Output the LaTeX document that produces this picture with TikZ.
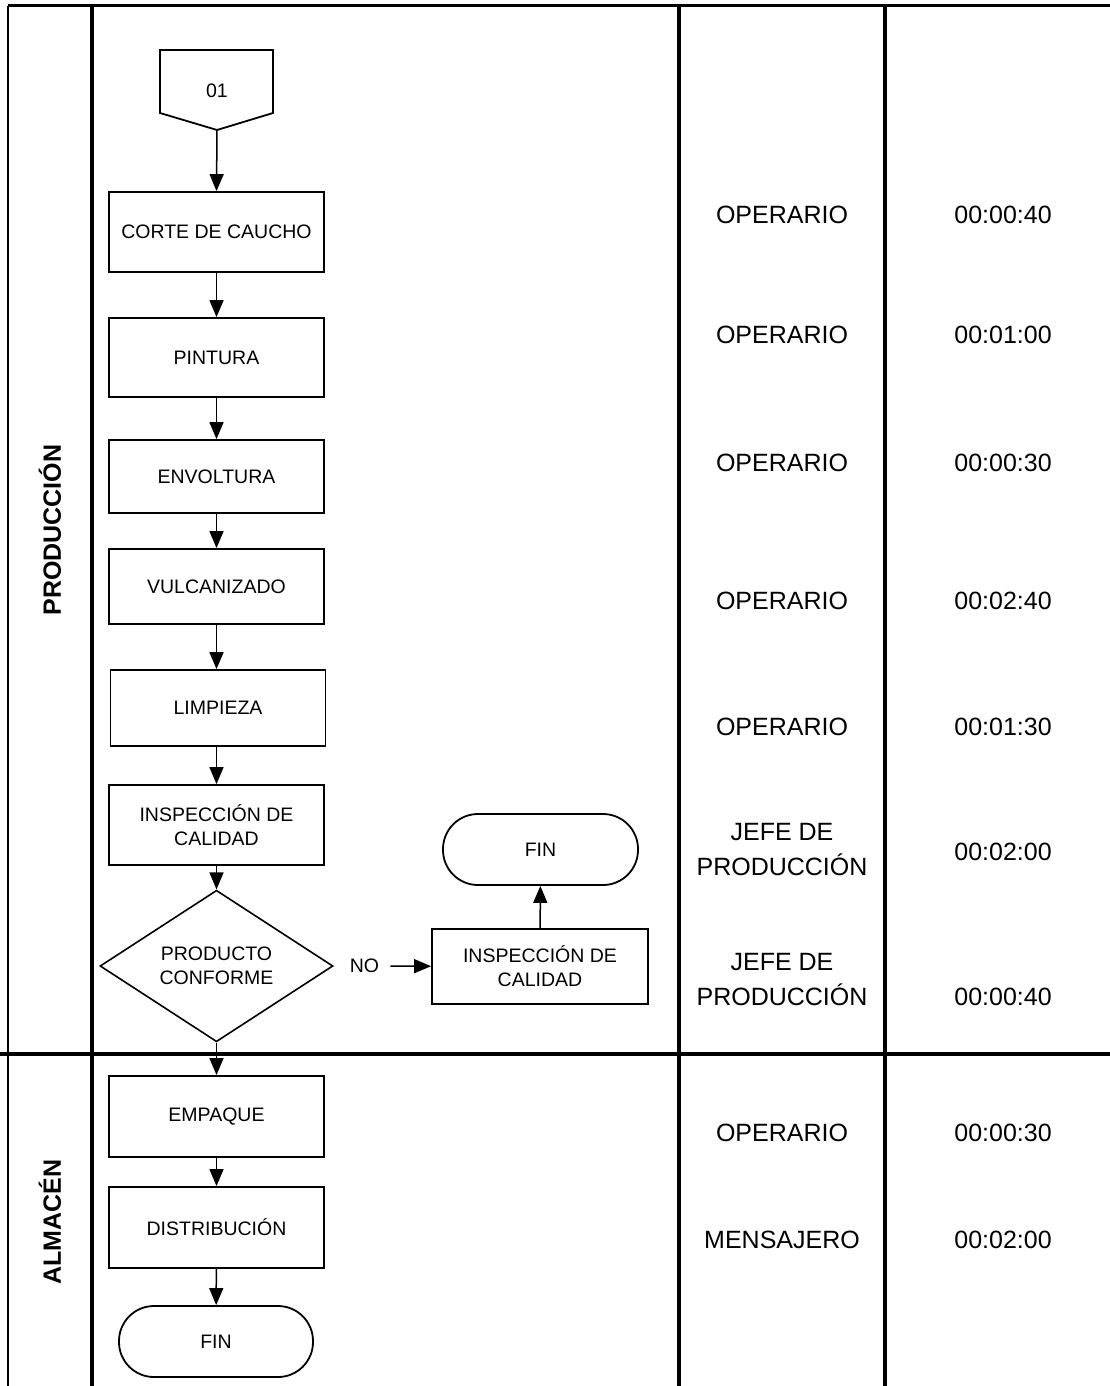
\documentclass[tikz,border=0pt]{standalone}
\usepackage{fontspec}
\setmainfont{Liberation Sans}
\usetikzlibrary{arrows.meta,shapes.geometric}
\begin{document}
\begin{tikzpicture}[x=1pt,y=-1pt,
  proc/.style={draw,line width=1.8pt,minimum width=215pt,inner sep=0pt,font=\fontsize{19.5}{24}\selectfont,align=center},
  term/.style={draw,line width=1.8pt,rounded corners=35pt,inner sep=0pt,minimum height=71pt,font=\fontsize{19.5}{24}\selectfont},
  dec/.style={draw,diamond,line width=1.6pt,minimum width=233pt,minimum height=128pt,inner sep=0pt,font=\fontsize{19.5}{24}\selectfont,align=center},
  flow/.style={line width=1.5pt,-{Triangle[length=17pt,width=14pt]}},
  gridline/.style={line width=3.5pt},
  cell/.style={font=\fontsize{25}{35}\selectfont,align=center,inner sep=0pt},
  lane/.style={font=\fontsize{25}{30}\selectfont\bfseries,rotate=90,inner sep=0pt}
]
\fill[white] (0,0) rectangle (1110,1386);
\useasboundingbox (0,0) rectangle (1110,1386);

% frame
\draw[line width=3pt] (8,6) -- (1110,6);
\draw[line width=2.5pt] (8,6) -- (8,1386);
\draw[gridline] (92,6) -- (92,1386);
\draw[gridline] (679,6) -- (679,1386);
\draw[gridline] (885,6) -- (885,1386);
\draw[line width=4.5pt] (0,1054) -- (1110,1054);

% lane labels
\node[lane] (lprod) at (50,530) {PRODUCCIÓN};
\node[lane] (lalm) at (50,1222) {ALMACÉN};

% off-page connector
\draw[line width=1.8pt,line join=miter] (160,50) -- (273,50) -- (273,113) -- (217,130) -- (160,113) -- cycle;
\node[font=\fontsize{19.5}{24}\selectfont] (c01) at (217,91) {01};
\coordinate (c01tip) at (217,130);

% process boxes
\node[proc,minimum height=80pt] (b1) at (216.5,232) {CORTE DE CAUCHO};
\node[proc,minimum height=79pt] (b2) at (216.5,357.5) {PINTURA};
\node[proc,minimum height=73pt] (b3) at (216.5,476.5) {ENVOLTURA};
\node[proc,minimum height=75pt] (b4) at (216.5,586.5) {VULCANIZADO};
\node[proc,minimum height=76pt] (b5) at (218,708) {LIMPIEZA};
\node[proc,minimum height=80pt] (b6) at (216.5,825) {INSPECCIÓN DE\\CALIDAD};
\node[dec] (d1) at (216.5,966) {PRODUCTO\\CONFORME};
\node[font=\fontsize{19.5}{24}\selectfont,inner xsep=11pt,inner ysep=0pt] (no) at (364.5,966) {NO};
\node[proc,minimum width=216pt,minimum height=75pt] (b7) at (540,966.5) {INSPECCIÓN DE\\CALIDAD};
\node[term,minimum width=195pt] (fin1) at (540.5,849.5) {FIN};
\node[proc,minimum height=81pt] (b8) at (216.5,1116.5) {EMPAQUE};
\node[proc,minimum height=81pt] (b9) at (216.5,1227.5) {DISTRIBUCIÓN};
\node[term,minimum width=194pt] (fin2) at (216,1341.5) {FIN};

% connectors
\draw[flow] (c01tip) -- (b1.north);
\draw[flow] (b1) -- (b2);
\draw[flow] (b2) -- (b3);
\draw[flow] (b3) -- (b4);
\draw[flow] (b4.south) -- (b5.north -| b4.south);
\draw[flow] (b5.south -| b6.north) -- (b6.north);
\draw[flow] (b6) -- (d1);
\draw[flow] (no) -- (b7);
\draw[flow] (b7) -- (fin1);
\draw[flow] (d1) -- (b8);
\draw[flow] (b8) -- (b9);
\draw[flow] (b9) -- (fin2);

% responsible / time columns
\node[cell] (r1) at (782,215) {OPERARIO};
\node[cell] (t1) at (1003,215) {00:00:40};
\node[cell] (r2) at (782,335) {OPERARIO};
\node[cell] (t2) at (1003,335) {00:01:00};
\node[cell] (r3) at (782,463) {OPERARIO};
\node[cell] (t3) at (1003,463) {00:00:30};
\node[cell] (r4) at (782,601) {OPERARIO};
\node[cell] (t4) at (1003,601) {00:02:40};
\node[cell] (r5) at (782,727) {OPERARIO};
\node[cell] (t5) at (1003,727) {00:01:30};
\node[cell] (r6) at (782,850) {JEFE DE\\PRODUCCIÓN};
\node[cell] (t6) at (1003,852) {00:02:00};
\node[cell] (r7) at (782,980) {JEFE DE\\PRODUCCIÓN};
\node[cell] (t7) at (1003,997) {00:00:40};
\node[cell] (r8) at (782,1133) {OPERARIO};
\node[cell] (t8) at (1003,1133) {00:00:30};
\node[cell] (r9) at (782,1240) {MENSAJERO};
\node[cell] (t9) at (1003,1240) {00:02:00};
\end{tikzpicture}
\end{document}
